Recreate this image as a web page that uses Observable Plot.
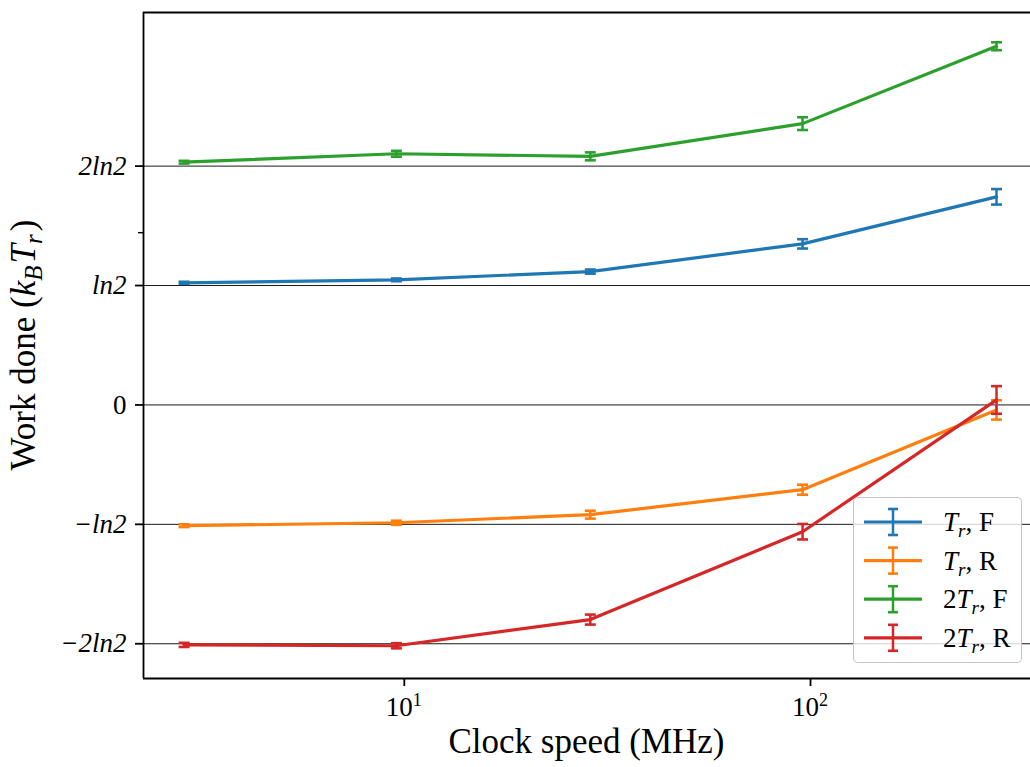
<!DOCTYPE html>
<html><head><meta charset="utf-8">
<script src="https://cdn.jsdelivr.net/npm/d3@7"></script>
<script src="https://cdn.jsdelivr.net/npm/@observablehq/plot@0.6"></script>
<style>
body{margin:0;background:#fff;}
#wrap{position:relative;width:1030px;height:767px;overflow:hidden;}
#legend{position:absolute;left:853px;top:497px;width:167px;height:164px;border:1.5px solid rgba(190,190,190,0.9);border-radius:5px;background:rgba(255,255,255,0.8);}
#legend svg{position:absolute;left:0;top:0;}
</style></head><body><div id="wrap"></div>
<script>
const LN2 = Math.log(2);
// data
const clockMHz = [2.87, 9.56, 28.7, 95.6, 287];
const seriesKeys = ["TrF", "TrR", "2TrF", "2TrR"];
const seriesLabels = [["", "F"], ["", "R"], ["2", "F"], ["2", "R"]];
const seriesColors = ["#1f77b4", "#ff7f0e", "#2ca02c", "#d62728"];
const workTrF  = [0.709, 0.726, 0.774, 0.935, 1.208];
const errTrF   = [0.006, 0.008, 0.012, 0.027, 0.045];
const workTrR  = [-0.701, -0.684, -0.637, -0.492, -0.029];
const errTrR   = [0.008, 0.012, 0.023, 0.029, 0.056];
const work2TrF = [1.409, 1.458, 1.443, 1.633, 2.082];
const err2TrF  = [0.008, 0.017, 0.023, 0.037, 0.023];
const work2TrR = [-1.393, -1.398, -1.246, -0.736, 0.029];
const err2TrR  = [0.012, 0.015, 0.029, 0.045, 0.080];
const yTicks = [-2 * LN2, -LN2, 0, LN2, 2 * LN2];
const yTickLabels = ["\u22122ln2", "\u2212ln2", "0", "ln2", "2ln2"];
const yMinorTicks = [1];
const xTicks = [10, 100];
const xTickExponents = ["1", "2"];
const xDomain = [2.28, 348];
const yDomain = [-1.588, 2.278];

const works = [workTrF, workTrR, work2TrF, work2TrR];
const errs = [errTrF, errTrR, err2TrF, err2TrR];
const series = seriesKeys.map((k, s) => clockMHz.map((x, i) => ({series: k, x, y: works[s][i], err: errs[s][i]})));

const capSymbol = {draw(ctx, size) { const w = Math.sqrt(size / Math.PI); ctx.moveTo(-w, 0); ctx.lineTo(w, 0); }};

const marks = [
  Plot.gridY(yTicks, {stroke: "black", strokeOpacity: 0.9, strokeWidth: 1})
];
series.forEach((d, s) => {
  const c = seriesColors[s];
  marks.push(
    Plot.line(d, {x: "x", y: "y", stroke: c, strokeWidth: 3.2}),
    Plot.ruleX(d, {x: "x", y1: r => r.y - r.err, y2: r => r.y + r.err, stroke: c, strokeWidth: 2.5}),
    Plot.dot(d, {x: "x", y: r => r.y - r.err, symbol: capSymbol, r: 5.5, fill: "none", stroke: c, strokeWidth: 2.6}),
    Plot.dot(d, {x: "x", y: r => r.y + r.err, symbol: capSymbol, r: 5.5, fill: "none", stroke: c, strokeWidth: 2.6})
  );
});
marks.push(
  Plot.ruleX([xDomain[0]], {stroke: "black", strokeWidth: 1.8}),
  Plot.ruleY(yDomain, {stroke: "black", strokeWidth: 1.8}),
  Plot.axisY({ticks: yTicks, tickSize: 8, tickPadding: 9, strokeWidth: 1.8, label: null,
    tickFormat: v => yTickLabels[yTicks.indexOf(v)], fontSize: 27}),
  Plot.axisY({ticks: yMinorTicks, tickSize: 5, strokeWidth: 1.4, label: null, tickFormat: () => ""}),
  Plot.axisX({ticks: xTicks, tickSize: 8, strokeWidth: 1.8, label: null, tickFormat: () => ""})
);

const plot = Plot.plot({
  width: 1030, height: 767,
  marginLeft: 143, marginRight: 0, marginTop: 12, marginBottom: 89,
  style: {fontFamily: "'Liberation Serif', 'Times New Roman', serif", fontSize: "27px", background: "white", color: "black"},
  x: {type: "log", domain: xDomain, label: null},
  y: {domain: yDomain, label: null},
  marks
});
document.getElementById("wrap").appendChild(plot);

const svg = d3.select(plot);
const xs = plot.scale("x");
// style y tick labels
svg.selectAll("text").each(function() {
  const t = this.textContent;
  const el = d3.select(this);
  if (yTickLabels.includes(t)) el.style("font-size", "27px");
  if (t.includes("ln")) el.style("font-style", "italic");
});
// x tick labels with superscripts
xTicks.forEach((v, i) => {
  const t = svg.append("text").attr("x", xs.apply(v)).attr("y", 716)
    .attr("text-anchor", "middle").style("font-size", "27px").attr("fill", "black");
  t.append("tspan").text("10");
  t.append("tspan").attr("dy", "-10px").style("font-size", "18px").text(xTickExponents[i]);
});
// axis titles
svg.append("text")
  .attr("x", (143 + 1030) / 2).attr("y", 753)
  .attr("text-anchor", "middle").style("font-size", "35px").attr("fill", "black")
  .text("Clock speed (MHz)");
const yl = svg.append("text")
  .attr("transform", "translate(35," + ((12 + 678) / 2) + ") rotate(-90)")
  .attr("text-anchor", "middle").style("font-size", "35px").attr("fill", "black");
yl.append("tspan").text("Work done (");
yl.append("tspan").attr("font-style", "italic").text("k");
yl.append("tspan").attr("font-style", "italic").style("font-size", "25px").attr("dy", "7px").text("B");
yl.append("tspan").attr("font-style", "italic").attr("dy", "-7px").attr("dx", "2px").style("font-size", "35px").text("T");
yl.append("tspan").attr("font-style", "italic").style("font-size", "25px").attr("dy", "7px").text("r");
yl.append("tspan").attr("dy", "-7px").attr("dx", "3px").style("font-size", "35px").text(")");

// legend
const leg = d3.select("#wrap").append("div").attr("id", "legend");
const ls = leg.append("svg").attr("width", 167).attr("height", 164)
  .style("font-family", "'Liberation Serif', 'Times New Roman', serif");
seriesKeys.forEach((k, s) => {
  const cy = 24 + s * 38.6;
  const c = seriesColors[s];
  const g = ls.append("g");
  g.append("line").attr("x1", 10).attr("x2", 68).attr("y1", cy).attr("y2", cy).attr("stroke", c).attr("stroke-width", 3.2);
  g.append("line").attr("x1", 39).attr("x2", 39).attr("y1", cy - 13).attr("y2", cy + 13).attr("stroke", c).attr("stroke-width", 2.5);
  g.append("line").attr("x1", 34).attr("x2", 44).attr("y1", cy - 13).attr("y2", cy - 13).attr("stroke", c).attr("stroke-width", 2.6);
  g.append("line").attr("x1", 34).attr("x2", 44).attr("y1", cy + 13).attr("y2", cy + 13).attr("stroke", c).attr("stroke-width", 2.6);
  const t = g.append("text").attr("x", 89).attr("y", cy + 9).style("font-size", "27px").attr("fill", "black");
  const lab = seriesLabels[s];
  if (lab[0]) t.append("tspan").text(lab[0]);
  t.append("tspan").attr("font-style", "italic").text("T");
  t.append("tspan").attr("font-style", "italic").style("font-size", "19px").attr("dy", "6px").text("r");
  t.append("tspan").attr("dy", "-6px").text(", " + lab[1]);
});
</script>
</body></html>
